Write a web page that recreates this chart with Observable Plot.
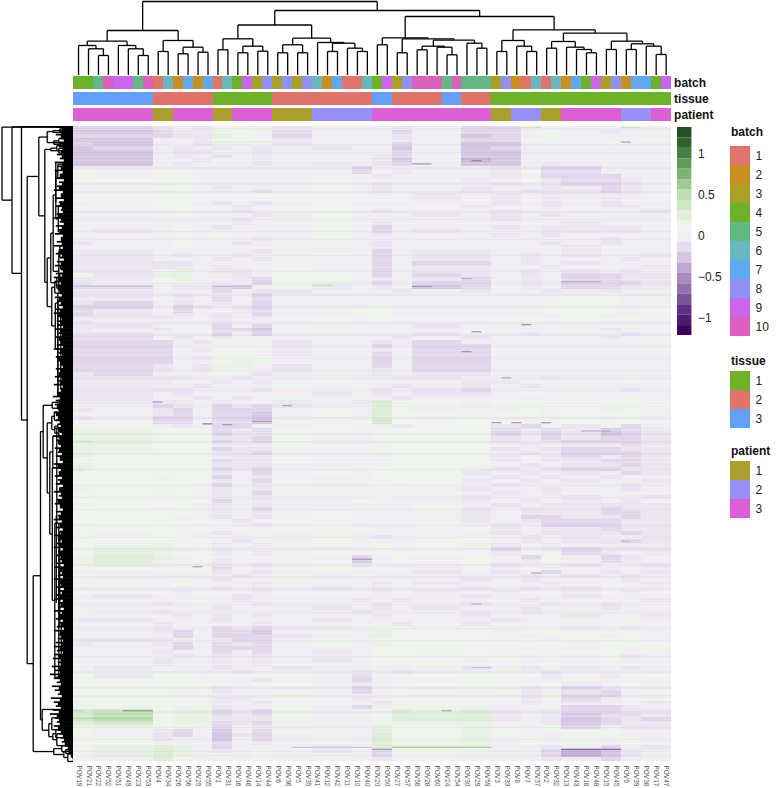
<!DOCTYPE html>
<html>
<head>
<meta charset="utf-8">
<script src="https://cdn.jsdelivr.net/npm/d3@7"></script>
<script src="https://cdn.jsdelivr.net/npm/@observablehq/plot@0.6"></script>
<style>
html,body{margin:0;padding:0;background:#fff;overflow:hidden}
#chart{position:relative;width:776px;height:788px;font-family:"Liberation Sans",Arial,sans-serif}
#chart svg{position:absolute;background:transparent;max-width:none}
#chart .ttl{position:absolute;font:bold 12px "Liberation Sans",Arial,sans-serif;color:#111;line-height:14px}
</style>
</head>
<body>
<div id="chart"></div>
<script>
const colNames = [19,21,22,52,51,49,23,53,4,34,26,56,25,55,1,31,16,46,14,44,6,36,5,35,41,12,42,11,10,40,20,50,27,57,58,28,60,24,54,30,29,59,3,33,8,7,37,2,32,13,43,18,48,15,45,9,39,38,17,47].map(d=>"POV"+d);
const batch  = [4,4,5,10,9,9,5,10,1,6,2,7,2,7,1,6,4,9,3,8,3,8,3,8,6,2,7,1,1,6,4,9,3,8,10,10,10,5,10,5,5,5,3,8,2,1,6,1,6,2,7,4,9,3,8,2,7,7,4,9];
const tissue = [3,3,3,3,3,3,3,3,2,2,2,2,2,2,1,1,1,1,1,1,2,2,2,2,2,2,2,2,2,2,3,3,2,2,2,2,2,3,3,2,2,2,1,1,1,1,1,1,1,1,1,1,1,1,1,1,1,1,1,1];
const patient= [3,3,3,3,3,3,3,3,1,1,3,3,3,3,1,1,3,3,3,3,1,1,1,1,2,2,2,2,2,2,3,3,3,3,3,3,3,3,3,3,3,3,1,1,2,2,2,1,1,3,3,3,3,3,3,2,2,2,3,3];
const batchColors   = ["#e0736a","#c9901f","#a9a127","#6db32a","#63b985","#68b7bd","#5ea9f2","#9090f5","#cb66ec","#dd5fbb"];
const tissueColors  = ["#6db32a","#df736a","#629ff8"];
const patientColors = ["#a8a02a","#9690f8","#dc5fd6"];

// value bins of the heatmap colour key, top of the key first
const keyTop = 1.324, keyBreaks = [1.197,1.07,0.943,0.816,0.689,0.562,0.435,0.308,0.181,0.054,-0.073,-0.2,-0.327,-0.454,-0.581,-0.708,-0.835,-0.962,-1.089], keyBottom = -1.216;
const keyColors = ["#274e27","#32632f","#467d43","#619a5b","#7fb275","#9fca91","#bcdeb0","#cfe6c6","#e0eeda","#eef4eb","#f1edf4","#e5dced","#d5c7e1","#bfa8d0","#a78cbc","#8f70aa","#795497","#612f85","#4c1a70","#3a0556"];

// column blocks (first column of each block) that share values along a row
const blockStarts = [0,2,8,10,12,14,16,18,20,24,28,30,32,34,39,42,45,47,49,53,55,57,60];
// level codes
const levels = {".":0,a:0.1,b:0.17,c:0.26,d:0.36,e:0.5,"1":-0.07,"2":-0.17,"3":-0.265,"4":-0.35};
const rowBlocks = [
"221.1a.a1...1.22......","33211ba.2...2.22.a.1..","22211ba.2...1.32.a....","33..1aaa1...1.22aa...a","23..1a.a1...2.33...a..",
"32.1.1.1.1..3.32......","33.11..1....2.33......","33.1.1.1...12.33......","33..1a.1...13.43......","33.1...1.1.12.33.1....",
"..........2....1.22...","a.a.......2.1..1a22...","a.aa.......1...1.222..","aaaa..........1.a1221.","..aa.....a.1...1.1221.",
"..aa.1...a.1..1..1.21.","...a...1.a.1..1.11121.","a.aa...a.....1.1.1111.","..aa.....a...1.1.1.1..",".aaa.1.1.a.....1.1.1..",
"..aa..1.aa....1..1.11.","...a..1.aa.1...1.....1","..aa...1.a...1.1.1....","......1..a.....1......","......1..a.1......1...",
"...a.1...a.2...1.1111.",".1.a.....a.2.1...1111.","...a.a...a.1...1.1....",".....a.1.a.........1..","1..a..1.a..1.....1.1..",
"...a.......1......1...","11.....1...2.11...1...","11.1..1..a.2.11.1.1..1","11...1.1...2.11.1...1.","1111....a..2.22.1.1...",
"1111.1..a..2.11..1...1","11ab.11.a..2.11.1.1.1.","a1bb..1.aa.2.21.1.2211","11ab..12aa.1.12.1.2211","1.aa.1.2ab.2.22.1.2221",
"22.1123.a1.1.32.1.2211","11...2.11...1.1..1.1..","11.1.1.2...........a..","11.1.2.2..........aa..","12.1.1.2...a.....aaa.a",
"22.21.12...a.....aaa.a","21.2..12..aa.....aaa.a","21.1.1.2..aa....a.a.aa","111..1.1.a.a....a.a.a.","1....1...a.a...aa.a...",
"11...2.2.....1......a.","1.1..223.a.........1..","11...2.2.....1..1...1.","22.1.1......1.1....1..","222.1aa.1..1.2.......a",
"222..a.a1..2.22.......","222.1aa.1..1.22.......","222..aa.1..2.22.......","222.1aaa...2.22.......","222..aba...2.22.......",
"221.1bb.1..2.22.......","221.1aa.1..1.22.......","12...a.1...1.11.......","1111..1.....11...1....","111..1.1.a....11....a.",
"11..1...a.a.1.1.1.....","1111...1...1.12.....1.","11.1.....1.1.11.a.....","11..1.1.a...1.....a.a.","1111.1..1.1c.a.aa..aa.",
"..21.2121..caa.aaaaaaa","1.12.222.a.ca.a.a.a.a.","..12.223.a.caa.aa.aaa.","1.22.223.a.ca.a.a.a.a.","..22.223...daaaa.aaaa.",
"aa.1.22a.aa.1aa12.1.2.","bbaaa212aa.aaaa2121321","bbaaa211aa.aaaa2121321","bbaaa112a..aaaa1.21221","cbaaa212a..aaaa1.12221",
"bbaaa111a...aaa.1.1121","bbaaa211...aaaa1.12211","baaaa112...aaaa.1.2221","baaaa111a...aaa1.12121","aaaaa211....aaa1.11221",
"baaaa111..a.aaa.1.1121","baaaa212...aaa.1.12211","aaaaa1.2.a.aaa1.1.1.21","aa.aa2.1...aaa.1.1.1..","aaaaa1.2a...aa1.1.1..1",
"aaaa.2.1...a.a.1....1.",".aaa.1.1.aa...1..1..1.","aa.aa1.2.....a.1.1....","aaaa.1.1...a..1...1..1","aa.aa2.1..a...1.1.1.1.",
".aaa.1.1.....a.1.11111","aa.a.1.2.....a1.111211","aaaa.1.1.a....1.111221","aaa..1.1.a....1.221121","aa.aa.1.a.....1.122211",
".aaa.a.1.a...a.1.22211","aaa.a.a.a.a...a1.11211","a.aa.1.a.a.....1.11121",".aaa.....a.1..a.1.1..1","aaa.a.1..a.a.aa.1.1121",
"abba.1.1...a.ab1.1.111","abb.a1.....a.aa2.12111","acb.a1.1.a...a.1a.21.1","acb.a.a.a.2.a.a.2a.21.","bcb.a1....3.a.a.1a.21.",
"ab.a.1.1.a1...a1..1..1",".a...2.1.a...1.1.1.1.1","....a1.1.a...1.1.2.1.1","a.....1.a.a.....1.1.1.",".a.a.1..a.....1.1...1.",
"...a...1...1.1...1...1",".....1.1.1.1..1.1.1...","a..1...1...1.1.1..1.1.",".1....1.......1...1...","......1...1.1...1....1",
"..1.a..1...1..1..1.1..",".....1...1.1.1..1..1..","a.1.......1...1.1.....","...1.1.1...1..1...1..1","11...1...1.....1..a.a.",
"..1....1....1.1.....a.","..1..21211.aa.a...1.1.","..12.223.a.baaa.aaa.a.","...2.2221..baaaa.aa.a.","111..122.a.aaaa.a.aaa.",
"1.12.212.a.baa.aaa.aa.","...2.222...aaaaa.a.a.a","..1..2.2.1.aaaa.a.aa.a","...1.1.1...aa.aa.a.a1.","..1..1.1.1.aaa.a...a..",
"..1..1.1...a.a...a....",".1...1..1.....1.1.1.1.","a.a...1.a.1.1..a.1..a.","a1aa....a.2..aa.a1.1.a","aaaa.a.1..2.a.aa..a...",
"aaaaa..aa.1..aa..a1.a.","aaaaa1.a..2.a.aa1.21..","aaa.a1..a.2.aa.a1.12.a","aaaaa...a...aaa.1a22..","aaaa.11.a.1.a.aa1a21..",
".aaaa1.1...1.aa.1.1..1","aaa.a1..a.2.aa...a221.","cdabb212a..acbc1.12211","deabb212a..accc1.13221","deabb111a..accc1.13212",
"cdabb212...abbb..13211","abaa.2.1...baab..a2.11","a.12.3.2a..caaba.a.a..","a.12.312.a.caaba..aa..",".a1..3.2...caab.a.a.a.",
"aa.a.2.1.a.caab.a.a.a.","abcb.2...1.cbbb..1.2.1","abcb.1.a.1.2aa...2431.","abcb.a.a...2aa...2431.","a.ca...a...1.....1.2.."
];
// per-row line shading across the map: 0 none, 1 slightly darker line, 2 slightly lighter line
const rowLines = "12021012201202101220210120121020120210212012012021021201221021012012021021202101201220120210212012021201021202120102120210120212012021020120210122012021201201102";
// thin strong lines in the heatmap: row, first column, end column, value
const streakRow   = [3.9,0.2,0.2,9.4,8.6,40.2,40.3,40.3,38.3,40,3.9,39.1,49.9,51.7,7.6,69.4,69.4,74.9,75.1,74.3,74.6,74.6,74.6,76.7,86.5,86.5,63.3,56.7,74,70.3,104.5,109,110.9,112.5,120.3,147.2,147.2,147.2,149.1,156.4,156.4,156.9,136.3,156.9];
const streakFrom  = [55,45,55,34,40,0,14,34,39,24,14,49,45,40,14,8,30,13,15,18,42,44,47,51,0,41,43,39,30,21,55,28,12,46,40,5,0,37,0,32,22,49,40,30];
const streakTo    = [56,47,57,36,41,8,16,36,40,26,20,53,46,41,16,9,32,14,16,20,43,45,48,54,1,42,44,40,32,22,56,30,13,47,41,8,1,38,8,42,30,55,42,32];
const streakValue = [0.7,0.4,0.4,-0.5,-0.6,-0.3,-0.35,-0.5,-0.4,0.45,0.25,-0.4,-0.55,-0.5,0.3,-0.5,0.35,-0.65,-0.5,-0.45,-0.5,-0.5,-0.5,-0.4,0.4,0.35,-0.45,-0.5,0.4,-0.45,-0.35,-0.5,-0.45,-0.45,-0.4,0.8,0.5,0.7,0.55,0.6,-0.3,-0.7,-0.3,-0.5];

// column dendrogram: [height, left, right], leaves are column numbers
const colTree = [73.5,
  [44.5,
    [33.8,[29.5,0,[26.2,1,[19.5,2,3]]],[29.5,4,[26.2,5,[19.5,6,7]]]],
    [34.5,[23.5,8,9],[27.8,[21.2,10,11],[22.8,12,13]]]],
  [64.5,
    [50,
      [36.2,[25.2,14,15],[28.8,[22.2,16,17],[23.8,18,19]]],
      [36.8,[30.2,[22.2,20,21],[22.2,22,23]],[32.5,24,[31.8,[23.5,25,26],[26.8,27,[23.5,28,29]]]]]],
    [58.5,
      [37.2,[30.2,30,31],[36.2,[22.2,32,33],[34.8,[28.8,[25.2,34,35],[27.8,36,[20.2,37,38]]],[31.8,39,[26.8,40,41]]]]],
      [45.2,
        [34.5,[23.5,42,43],[28.8,44,[23.5,45,46]]],
        [41.8,
          [33.5,[26.8,47,48],[27.8,49,[25.5,50,[22.2,51,52]]]],
          [33.8,[25.5,53,54],[31.2,[25.5,55,56],[28.8,57,[20.5,58,59]]]]]]]]];

// row dendrogram upper branches: [height, upper, lower], leaves are row positions
const rowTree = [71.8,0.15,[61.8,0.1,[52.3,0.05,[46.6,
  [35,
    [26.6,[21,[14,0.6,1.5],[12,1.2,1.8]],[20,[15,3,4.2],[13,4,5]]],
    [29,[23,[17,4.8,6.1],[15,5.5,6.7]],
      [26.6,
        [23,[20.6,[18,[16,9.5,13],[15.5,20,26.6]],[15,[14,30,33],[13,41,42]]],[17,[14,37,39],[13,40,41.5]]],
        [22,[19,39,42],[18.5,[16,42,47],[16,44,68]]]]]],
  [40.6,
    [33.3,
      [30.6,
        [21.6,[16,69,70],[15,70.5,71.5]],
        [26.6,
          [22,[19.5,72,74],[19,[16,75,76],[15,76,78.5]]],
          [24,[21,78,86],[21.5,86,[19,100,138.8]]]]],
      [31.6,146.9,[25,[22,149,152],[21,[18,152,154],[17,153,156]]]]],
    [20,[12,156,157.5],[10,[8,157,158],[6,158,160]]]]]]]];
// further inner branches of the row dendrogram: height, first row, last row
const innerHeight = [17,15,12.5,16,17.5,14,15,13,18];
const innerFirst  = [76,100,126,44,98,102,112,47,9];
const innerLast   = [100,123,137,68,120,126,138,66,19];
// how far the dense leaves of each row reach into the row dendrogram
const rowSolid = [12,11,13,10,12,11,13,12,10,12,13,11,14,10,12,15,11,13,10,14,12,11,15,13,10,12,14,11,13,12,11,15,12,10,13,14,11,12,15,13,16,14,12,15,13,11,14,16,12,13,11,14,12,15,13,11,14,12,16,13,11,13,15,12,14,11,13,16,14,15,17,15,18,16,14,13,15,12,14,16,13,15,12,14,11,16,13,15,12,14,11,15,13,12,16,14,11,13,15,12,14,11,13,16,12,14,11,15,13,12,10,14,12,11,15,13,10,12,14,11,13,10,12,15,11,13,10,14,12,11,12,14,11,15,13,12,15,14,16,14,13,15,14,12,14,16,13,15,17,15,14,16,13,11,10,9,6,5,3,1];
const rowReach = [20,14,18,13,21,15,12,17,14,19,16,19,14,18,15,17,20,13,19,15,18,13,17,20,14,18,15,19,13,17,20,15,18,14,17,19,13,18,20,15,18,16,14,19,17,15,18,20,14,17,16,19,15,18,14,17,20,15,18,16,14,18,15,19,16,20,14,17,21,18,19,17,20,15,18,16,19,14,21,17,15,19,16,18,14,20,17,15,19,16,18,14,20,15,17,19,14,18,16,20,15,18,14,19,16,17,20,15,18,14,17,19,15,16,20,14,18,15,17,19,14,16,20,15,18,14,17,19,15,16,18,20,17,19,21,16,22,19,24,20,17,22,19,16,23,20,18,21,24,19,17,20,16,15,13,12,9,7,5,2];

const chart = document.getElementById("chart");
const place = (node, left, top) => { node.style.left = left + "px"; node.style.top = top + "px"; chart.appendChild(node); return node; };
const FONT = '"Liberation Sans",Arial,sans-serif';

function treeSegments(tree, leaf) {
  const segs = [];
  (function walk(n) {
    if (!Array.isArray(n)) return {p: leaf(n), h: 0};
    const [h, l, r] = n, a = walk(l), b = walk(r);
    segs.push({p1: a.p, h1: h, p2: b.p, h2: h}, {p1: a.p, h1: a.h, p2: a.p, h2: h}, {p1: b.p, h1: b.h, p2: b.p, h2: h});
    return {p: (a.p + b.p) / 2, h};
  })(tree);
  return segs;
}

const heatW = 597.7, heatH = 635, nRows = rowBlocks.length;
// map colours: the key colours placed at the middle of their bins
const edgeList = [keyTop, ...keyBreaks, keyBottom];
const binMiddles = keyColors.map((c, i) => (edgeList[i] + edgeList[i + 1]) / 2);
const colorScale = {type: "linear", domain: binMiddles.slice().reverse(), range: keyColors.slice().reverse(), clamp: true};

// column dendrogram
place(Plot.plot({
  width: heatW, height: 75, margin: 0,
  x: {domain: [0, 60], axis: null}, y: {domain: [0, 74.5], range: [74.5, 0], axis: null},
  marks: [Plot.link(treeSegments(colTree, k => k + 0.5), {x1: "p1", y1: "h1", x2: "p2", y2: "h2", stroke: "#000", strokeWidth: 1.3})]
}), 73.3, 0);

// annotation tracks
const tracks = [["batch", batch, batchColors], ["tissue", tissue, tissueColors], ["patient", patient, patientColors]];
place(Plot.plot({
  width: heatW + 50, height: 48, marginLeft: 0, marginTop: 0, marginBottom: 0, marginRight: 50,
  style: {shapeRendering: "crispEdges"},
  x: {domain: colNames, padding: 0, axis: null},
  y: {domain: tracks.map(t => t[0]), paddingInner: 0.16, paddingOuter: 0, label: null},
  color: {type: "identity"},
  marks: [
    Plot.cell(tracks.flatMap(([name, vals, cols]) => vals.map((v, i) => ({name, col: colNames[i], c: cols[v - 1]}))), {x: "col", y: "name", fill: "c"}),
    Plot.axisY({anchor: "right", tickSize: 0, tickPadding: 3, fontWeight: "bold", fontSize: 12, fill: "#111", fontFamily: FONT, label: null})
  ]
}), 73.3, 74.7);

// heatmap
const blockCells = rowBlocks.flatMap((s, r) => blockStarts.slice(0, -1).map((c, b) => ({
  x1: c, x2: blockStarts[b + 1], y1: r, y2: r + 1, v: levels[s[b]] ?? levels["."]})));
const streaks = streakRow.map((r, i) => ({x1: streakFrom[i], x2: streakTo[i], y1: r, y2: r + 0.3, v: streakValue[i]}));
const lineRows = Array.from(rowLines).map((c, r) => ({c, r})).filter(d => d.c !== "0");
const heat = place(Plot.plot({
  width: heatW, height: heatH, margin: 0,
  x: {domain: [0, 60], axis: null}, y: {domain: [0, nRows], reverse: true, axis: null},
  color: colorScale,
  marks: [
    Plot.rect(blockCells, {x1: "x1", x2: "x2", y1: "y1", y2: "y2", fill: "v", shapeRendering: "crispEdges"}),
    Plot.rect(lineRows, {x1: 0, x2: 60, y1: d => d.r + 0.45, y2: d => d.r + 0.8, fill: d => d.c === "1" ? "#7a5a9a" : "#ffffff", fillOpacity: d => d.c === "1" ? 0.05 : 0.2, shapeRendering: "crispEdges"}),
    Plot.rect(streaks, {x1: "x1", x2: "x2", y1: "y1", y2: "y2", fill: "v"})
  ]
}), 73.3, 126);
heat.style.filter = "blur(0.5px)";

// column labels
place(Plot.plot({
  width: heatW, height: 27, marginLeft: 0, marginRight: 0, marginTop: 0, marginBottom: 27,
  x: {domain: [0, 60]}, y: {axis: null},
  marks: [Plot.axisX({ticks: colNames.map((_, i) => i + 0.5), tickFormat: d => colNames[d - 0.5], tickRotate: 90, tickSize: 0, tickPadding: 4, fontSize: 6.5, fill: "#555", fontFamily: FONT, label: null})]
}), 73.3, 761);

// row dendrogram
const rowLeaves = rowSolid.map((h, i) => ({h, r: i + 0.5}));
const rowThin = rowReach.map((h, i) => ({h, r: i + 0.05}));
const inner = innerHeight.map((h, i) => ({h, r1: innerFirst[i], r2: innerLast[i]}));
place(Plot.plot({
  width: 73.3, height: heatH + 2, margin: 0, marginTop: 0, marginBottom: 2,
  x: {domain: [73.3, 0], range: [0, 73.3], axis: null}, y: {domain: [0, nRows], reverse: true, axis: null},
  marks: [
    Plot.link(treeSegments(rowTree, r => r), {x1: "h1", y1: "p1", x2: "h2", y2: "p2", stroke: "#000", strokeWidth: 1.3}),
    Plot.link(inner, {x1: "h", x2: "h", y1: "r1", y2: "r2", stroke: "#000", strokeWidth: 1.3}),
    Plot.link(rowThin, {x1: "h", x2: 0, y1: "r", y2: "r", stroke: "#000", strokeWidth: 1.7}),
    Plot.link(rowLeaves, {x1: "h", x2: 0, y1: "r", y2: "r", stroke: "#000", strokeWidth: 3.97})
  ]
}), 0, 126);

// colour key
place(Plot.plot({
  width: 52, height: 208.5, marginLeft: 0, marginTop: 0, marginBottom: 0, marginRight: 37.6,
  x: {domain: [0, 1], axis: null}, y: {domain: [keyBottom, keyTop]},
  color: {type: "identity"},
  marks: [
    Plot.rect(keyColors, {x1: 0, x2: 1, y1: (d, i) => edgeList[i], y2: (d, i) => edgeList[i + 1], fill: d => d}),
    Plot.axisY({anchor: "right", ticks: [1, 0.5, 0, -0.5, -1], tickFormat: d => d < 0 ? "\u2212" + Math.abs(d) : String(d), tickSize: 0, tickPadding: 6, fontSize: 12, fill: "#222", fontFamily: FONT, label: null})
  ]
}), 677.2, 126.7);

// annotation legends
function legend(title, names, colors, titleTop, boxTop) {
  const t = document.createElement("div");
  t.className = "ttl"; t.textContent = title; t.style.left = "731px"; t.style.top = titleTop + "px";
  chart.appendChild(t);
  place(Plot.plot({
    width: 45, height: names.length * 19.94, marginLeft: 0, marginTop: 0, marginBottom: 0, marginRight: 25,
    style: {shapeRendering: "crispEdges"},
    y: {domain: names, padding: 0},
    color: {type: "identity"},
    marks: [
      Plot.cell(names, {y: d => d, fill: (d, i) => colors[i]}),
      Plot.axisY({anchor: "right", tickSize: 0, tickPadding: 5, fontSize: 12, fill: "#222", fontFamily: FONT, label: null})
    ]
  }), 730, boxTop);
}
legend("batch", d3.range(1, 11).map(String), batchColors, 125, 141.3);
legend("tissue", ["1", "2", "3"], tissueColors, 354, 370);
legend("patient", ["1", "2", "3"], patientColors, 444, 460);
</script>
</body>
</html>
